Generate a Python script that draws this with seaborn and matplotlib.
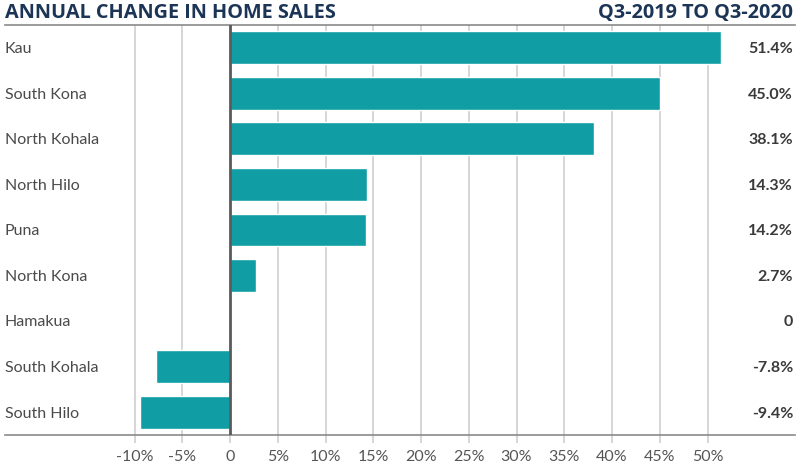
import seaborn as sns
import matplotlib.pyplot as plt
import matplotlib.transforms as mtransforms
import pandas as pd

# data
regions = ["Kau", "South Kona", "North Kohala", "North Hilo", "Puna",
           "North Kona", "Hamakua", "South Kohala", "South Hilo"]
change = [51.4, 45.0, 38.1, 14.3, 14.2, 2.7, 0.0, -7.8, -9.4]
ticks = [-10, -5, 0, 5, 10, 15, 20, 25, 30, 35, 40, 45, 50]
tick_labels = ["-10%", "-5%", "0", "5%", "10%", "15%", "20%", "25%",
               "30%", "35%", "40%", "45%", "50%"]

df = pd.DataFrame({"region": regions, "change": change})

sns.set_style("white")
plt.rcParams['font.family'] = ['Lato', 'DejaVu Sans']

teal = "#119da4"
navy = "#1c3557"
text_gray = "#4a4a4a"
grid_gray = "#d0d0d0"

fig = plt.figure(figsize=(8, 4.76), dpi=100)
W, H = 800, 476
ax = fig.add_axes([5 / W, (H - 435) / H, 790 / W, 410 / H])

sns.barplot(data=df, x="change", y="region", order=regions, color=teal,
            width=0.72, saturation=1, ax=ax, zorder=3)

# scale: 0 at px 230, 9.55 px per percent
px_per = 9.55
ax.set_xlim((5 - 230) / px_per, (795 - 230) / px_per)
ax.set_ylim(8.5, -0.5)

for t in ticks:
    if t == 0:
        ax.axvline(0, color="#5a5a5a", lw=2, zorder=4)
    else:
        ax.axvline(t, color=grid_gray, lw=1.2, zorder=1)

ax.set_xticks(ticks)
ax.set_xticklabels(tick_labels, fontsize=11.5, color="#555555")
ax.tick_params(axis="x", length=6, width=1.2, color=grid_gray, pad=5, bottom=True)
ax.set_yticks([])
ax.set_xlabel("")
ax.set_ylabel("")

for side in ["left", "right"]:
    ax.spines[side].set_visible(False)
for side in ["top", "bottom"]:
    ax.spines[side].set_color("#8a8a8a")
    ax.spines[side].set_linewidth(1.2)

trans = mtransforms.blended_transform_factory(ax.transAxes, ax.transData)
for i, (r, v) in enumerate(zip(regions, change)):
    ax.text(0.0, i + 0.03, r, transform=trans, ha="left", va="center",
            fontsize=11.5, color=text_gray)
    lab = "0" if v == 0 else f"{v:.1f}%"
    ax.text(0.9975, i + 0.03, lab, transform=trans, ha="right", va="center",
            fontsize=11.5, color="#3a3a3a", fontweight="bold")

fig.text(5 / W, 1 - 13 / H, "ANNUAL CHANGE IN HOME SALES", ha="left", va="center",
         fontsize=14.3, color=navy, fontweight="bold", family=["Open Sans", "DejaVu Sans"])
fig.text(793 / W, 1 - 13 / H, "Q3-2019 TO Q3-2020", ha="right", va="center",
         fontsize=14.3, color=navy, fontweight="bold", family=["Open Sans", "DejaVu Sans"])

fig.savefig("out.png", dpi=100)
